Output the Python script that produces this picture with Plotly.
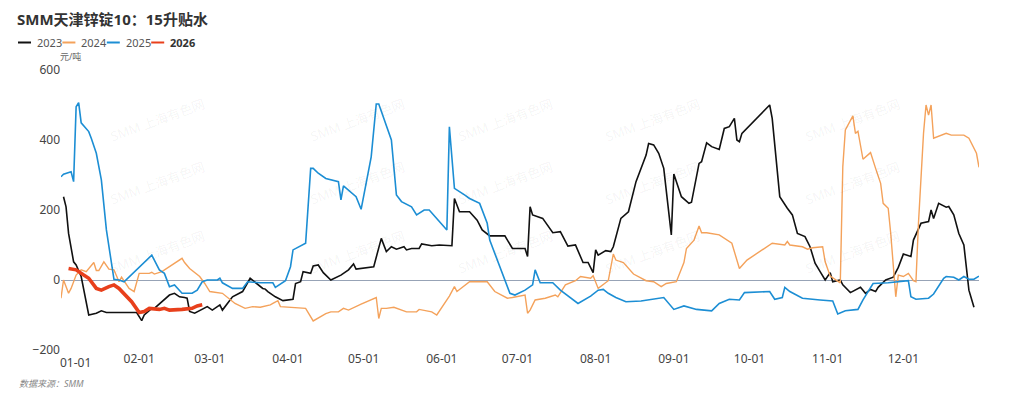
import plotly.graph_objects as go

# ---------------- data (MM-DD, 元/吨) ----------------
dates_2023 = ["01-02","01-03","01-04","01-05","01-06","01-07","01-09","01-12","01-15","01-17","01-19","01-31",
              "02-02","02-03","02-06","02-07","02-10","02-13","02-15","02-17","02-19","02-20","02-21","02-23","02-28",
              "03-02","03-05","03-06","03-10","03-14","03-17","03-20","03-22","03-23","03-24","03-27","03-30",
              "04-03","04-04","04-06","04-07","04-10","04-11","04-13","04-15","04-18","04-22","04-25","04-27","04-28",
              "05-04","05-05","05-08","05-10","05-12","05-14","05-17","05-18","05-20","05-23","05-24","05-28","05-31",
              "06-05","06-06","06-08","06-12","06-15","06-17","06-20","06-26","06-29",
              "07-04","07-05","07-06","07-07","07-11","07-13","07-15","07-18","07-21","07-24","07-27","07-29","07-31",
              "08-01","08-02","08-05","08-07","08-08","08-11","08-14","08-17","08-21","08-22","08-24","08-26","08-28","08-31",
              "09-01","09-04","09-07","09-08","09-11","09-12","09-14","09-16","09-19","09-21","09-23","09-25","09-26","09-27","09-28",
              "10-09","10-10","10-13","10-16","10-18","10-20","10-23","10-25","10-27","10-29","10-31",
              "11-02","11-03","11-06","11-07","11-10","11-14","11-16","11-18","11-20","11-21","11-24","11-27","11-29",
              "12-01","12-04","12-05","12-08","12-11","12-12","12-13","12-15","12-18","12-19","12-21","12-23","12-25","12-27","12-29"]
vals_2023 = [238,209,133,86,52,43,10,-100,-95,-88,-93,-93,
             -116,-100,-81,-81,-62,-43,-38,-48,-50,-52,-90,-95,-76,
             -86,-71,-86,-48,-33,5,-14,-24,-26,-33,-48,-59,
             -55,-10,-5,24,19,40,43,21,0,14,29,46,31,
             38,38,119,81,95,88,95,86,90,90,103,98,100,
             98,233,195,195,171,143,126,126,90,
             90,67,209,186,176,154,135,138,97,100,50,50,21,
             86,71,84,81,95,176,195,281,357,390,386,362,319,129,
             303,238,219,222,333,338,392,381,373,433,438,462,400,395,419,
             500,462,238,205,186,133,124,95,48,24,0,
             21,-5,0,-14,-36,-21,-38,-27,-33,-21,0,8,36,
             74,67,114,162,167,200,176,219,208,210,186,133,100,-29,-78]

dates_2024 = ["01-01","01-02","01-04","01-05","01-07","01-09","01-11","01-13","01-14","01-15","01-16","01-18","01-20","01-22",
              "01-24","01-25","01-27","01-28","01-30","02-01","02-05","02-06","02-07","02-10","02-18","02-19","02-21","02-25","02-27",
              "03-01","03-06","03-11","03-15","03-18","03-21","03-25","03-26","03-28","03-29",
              "04-08","04-11","04-14","04-16","04-18","04-21","04-23","04-25","04-30",
              "05-06","05-07","05-08","05-10","05-13","05-18","05-22","05-23","05-28","05-30",
              "06-01","06-04","06-06","06-07","06-12","06-19","06-22","06-27","06-29",
              "07-04","07-05","07-06","07-08","07-12","07-16","07-17","07-20","07-24","07-26","07-30","07-31",
              "08-02","08-06","08-08","08-09","08-12","08-16","08-19","08-21","08-24","08-27","08-29",
              "09-02","09-05","09-06","09-09","09-11","09-12","09-14","09-19","09-24","09-27","09-30",
              "10-10","10-15","10-16","10-17","10-22","10-24","10-26","10-30","10-31",
              "11-01","11-02","11-06","11-07","11-08","11-11","11-12","11-13","11-15","11-18","11-20","11-22","11-23","11-25","11-26","11-28","11-29",
              "12-01","12-03","12-05","12-06","12-07","12-09","12-10","12-11","12-12","12-13","12-18","12-20","12-25","12-27","12-30","12-31"]
vals_2024 = [-52,0,-38,-24,14,29,24,43,50,27,27,52,31,29,
             -5,8,-14,-24,-33,19,19,22,17,24,62,50,33,10,-10,
             -33,-38,-67,-81,-76,-78,-71,-67,-59,-76,
             -81,-117,-103,-96,-91,-91,-81,-86,-69,
             -50,-110,-81,-81,-78,-91,-91,-84,-91,-100,
             -78,-46,-19,-33,-5,-5,-33,-52,-50,
             -43,-95,-86,-57,-52,-43,-48,-14,-2,10,5,12,
             -24,-2,74,57,50,17,5,-2,-5,-19,-10,
             -5,50,90,114,154,135,135,129,105,33,57,
             105,100,110,100,95,88,92,95,52,
             29,11,-8,324,429,469,419,425,345,364,319,276,219,205,133,-48,14,
             10,19,-2,-5,162,419,500,471,500,405,419,414,414,405,362,322]

dates_2025 = ["01-01","01-02","01-05","01-06","01-07","01-08","01-09","01-12","01-13","01-15","01-17","01-19","01-22","01-24","01-26",
              "02-06","02-09","02-11","02-13","02-15","02-18","02-22","02-24","02-26","02-28",
              "03-04","03-05","03-06","03-10","03-14","03-16","03-21","03-26","03-27","03-31",
              "04-02","04-03","04-08","04-10","04-11","04-13","04-16","04-21","04-22","04-23","04-28","04-30",
              "05-04","05-06","05-07","05-12","05-14","05-16","05-20","05-22","05-25","05-27",
              "06-03","06-04","06-06","06-10","06-12","06-16","06-19","06-20","06-24","06-28","06-30",
              "07-04","07-07","07-08","07-10","07-15","07-18","07-25","07-30",
              "08-02","08-04","08-06","08-09","08-13","08-19","08-28",
              "09-01","09-05","09-10","09-16","09-19","09-23","09-27","09-29",
              "10-09","10-11","10-14","10-15","10-17","10-22","10-29",
              "11-03","11-05","11-08","11-13","11-15","11-19","11-25",
              "12-03","12-04","12-06","12-11","12-13","12-17","12-18","12-21","12-23","12-25","12-27","12-29","12-31"]
vals_2025 = [295,302,309,281,495,507,449,424,405,362,286,143,2,0,-5,
             71,29,19,-19,-14,-38,-38,-29,-5,0,
             0,5,-8,-24,-24,-5,-8,-8,-21,-2,
             38,86,105,319,319,305,290,281,229,269,238,202,
             352,503,503,400,243,224,209,186,200,200,
             143,438,262,243,233,219,162,114,38,-38,-43,
             -29,-14,29,-8,-8,-29,-67,-46,
             -29,-27,-38,-50,-62,-60,-50,
             -84,-74,-84,-88,-67,-55,-57,-36,
             -33,-55,-50,-21,-33,-52,-57,
             -60,-97,-88,-84,-57,-10,-8,
             -2,-48,-55,-52,-40,5,10,8,0,10,2,2,11]

dates_2026 = ["01-04","01-07","01-10","01-12","01-15","01-17","01-20","01-22","01-24","01-26","01-29",
              "02-01","02-03","02-05","02-09","02-11","02-13","02-18","02-22","02-24","02-26"]
vals_2026 = [33,29,14,5,-24,-29,-19,-14,-24,-38,-62,
             -93,-90,-81,-84,-81,-86,-84,-81,-74,-71]

month_ticks = ["01-01","02-01","03-01","04-01","05-01","06-01","07-01","08-01","09-01","10-01","11-01","12-01"]
y_ticks = [-200, 0, 200, 400, 600]

series = [
    ("2023", dates_2023, vals_2023, "#111111", 1.6, False),
    ("2024", dates_2024, vals_2024, "#F4A25B", 1.4, False),
    ("2025", dates_2025, vals_2025, "#1C8ED4", 1.6, False),
    ("2026", dates_2026, vals_2026, "#E8401C", 3.6, True),
]

BASE_YEAR = "2001-"  # common dummy year so all seasons share one axis
FONT = "Noto Sans, Noto Sans CJK SC, sans-serif"

fig = go.Figure()
for name, d, v, color, w, bold in series:
    fig.add_trace(go.Scatter(
        x=[BASE_YEAR + s for s in d], y=v, mode="lines", name=name,
        line=dict(color=color, width=w), showlegend=False,
        hovertemplate="%{x|%m-%d}: %{y}<extra>" + name + "</extra>",
    ))

# page has an 8px body margin; figure sized so that the plot area sits at page x 61..979, y 70..350
OFF = 8
W, H = 1024 - 2 * OFF, 399 - 2 * OFF
L, R, T, B = 61 - OFF, 1024 - 979 - OFF, 70 - OFF, 399 - 350 - OFF
PX0, PX1, PY0, PY1 = 61, 979, 70, 350

def px_x(px):
    return (px - PX0) / (PX1 - PX0)

def px_y(py):
    return (PY1 - py) / (PY1 - PY0)

annotations = []
shapes = []

# manual legend
for i, (name, d, v, color, w, bold) in enumerate(series):
    x0 = 18 + 44.4 * i
    shapes.append(dict(type="line", xref="paper", yref="paper",
                       x0=px_x(x0), x1=px_x(x0 + 13), y0=px_y(42.5), y1=px_y(42.5),
                       line=dict(color=color, width=2)))
    annotations.append(dict(xref="paper", yref="paper", x=px_x(x0 + 17), y=px_y(42.5),
                            xanchor="left", yanchor="middle", showarrow=False,
                            text=("<b>%s</b>" % name) if bold else name,
                            font=dict(size=11, color="#333333" if bold else "#555555", family=FONT)))

# first x tick label is left-aligned at the axis start
annotations.append(dict(xref="x", yref="paper", x=BASE_YEAR + month_ticks[0], y=px_y(362),
                        xanchor="left", yanchor="middle", xshift=-3, showarrow=False,
                        text=month_ticks[0], font=dict(size=12, color="#444444", family=FONT)))

# unit
annotations.append(dict(xref="paper", yref="paper", x=px_x(58), y=px_y(57), xanchor="left", yanchor="middle",
                        showarrow=False, text="元/吨", font=dict(size=9, color="#666666", family=FONT)))
# source
annotations.append(dict(xref="paper", yref="paper", x=px_x(17), y=px_y(383), xanchor="left", yanchor="middle",
                        showarrow=False, text="<i>数据来源：SMM</i>", font=dict(size=9, color="#888888", family=FONT)))

# watermarks
for wy in (92, 183, 280):
    for wx in (105, 305, 505, 705, 905):
        annotations.append(dict(xref="paper", yref="paper", x=px_x(wx), y=px_y(wy),
                                showarrow=False, text="SMM 上海有色网", textangle=-20,
                                font=dict(size=13, color="rgba(0,0,0,0.055)", family=FONT)))

fig.update_layout(
    width=W, height=H,
    margin=dict(l=L, r=R, t=T, b=B, pad=0),
    paper_bgcolor="white", plot_bgcolor="white",
    font=dict(family=FONT, color="#444444"),
    title=dict(text="<b>SMM天津锌锭10：15升贴水</b>", xref="container", yref="container",
               x=(17 - OFF) / W, xanchor="left", y=1 - (20 - OFF) / H, yanchor="middle",
               font=dict(size=15, color="#333333", family=FONT)),
    xaxis=dict(type="date", range=[BASE_YEAR + "01-01", BASE_YEAR + "12-31"],
               tickvals=[BASE_YEAR + t for t in month_ticks[1:]], ticktext=month_ticks[1:],
               showgrid=False, zeroline=False, showline=False, ticks="",
               tickfont=dict(size=12, color="#444444")),
    yaxis=dict(range=[-200, 600], tickvals=y_ticks, showgrid=False,
               zeroline=True, zerolinecolor="#97A3B6", zerolinewidth=1,
               showline=False, ticks="", tickfont=dict(size=12, color="#444444")),
    shapes=shapes, annotations=annotations,
    showlegend=False,
)

fig.write_html("out.html")
